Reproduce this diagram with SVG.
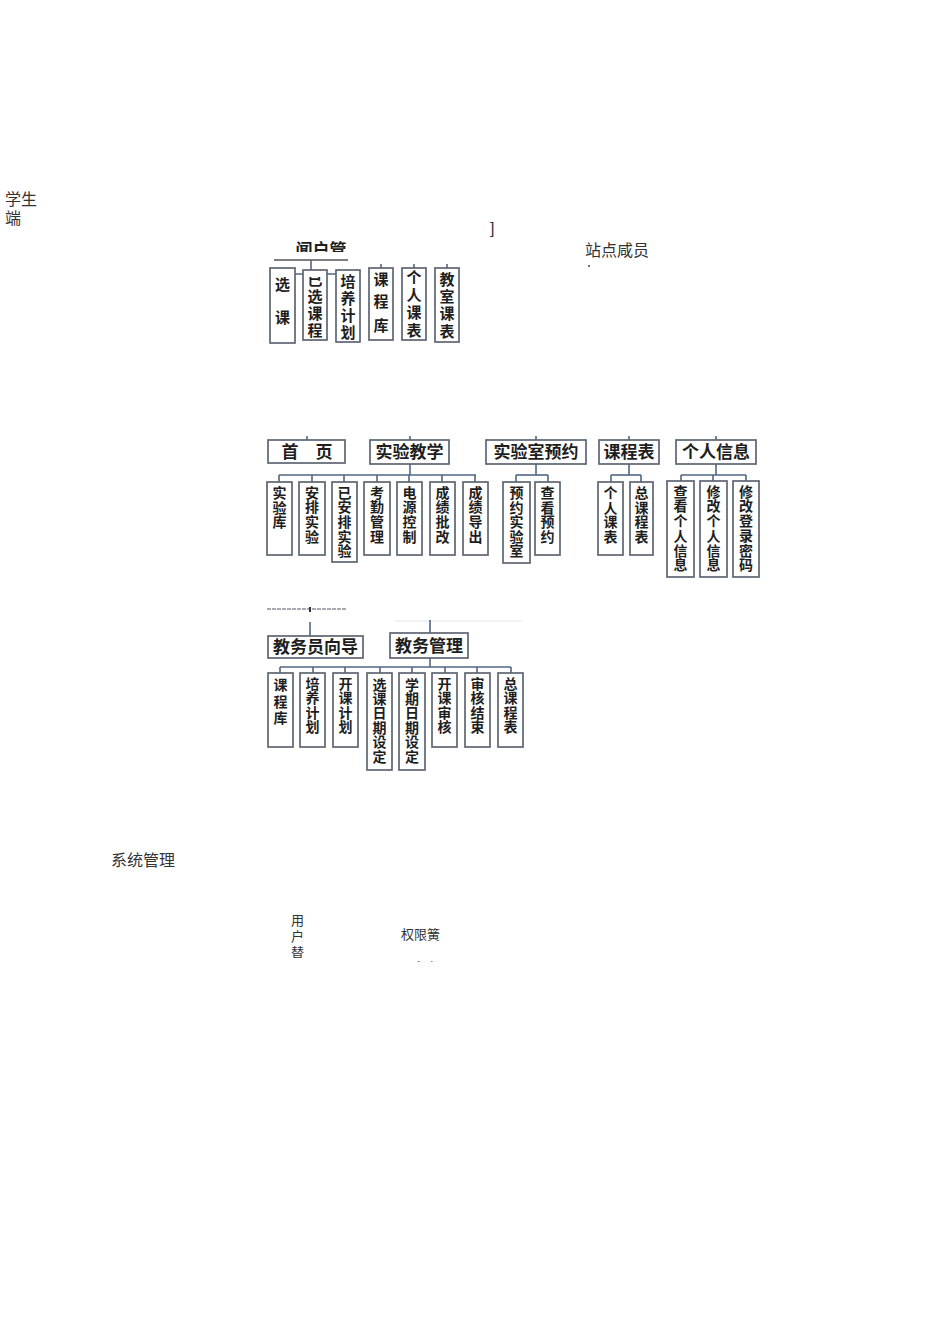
<svg xmlns="http://www.w3.org/2000/svg" width="950" height="1344" viewBox="0 0 950 1344">
<defs>
<style>
.bg{fill:#ffffff}
.box{fill:#ffffff;stroke:#5f6672;stroke-width:1.7}
.con{stroke:#4f6684;stroke-width:1.6;fill:none}
.lbl{font-family:"Liberation Sans","Noto Sans CJK SC",sans-serif;fill:#333333;font-size:16px}
.sm{font-family:"Liberation Sans","Noto Sans CJK SC",sans-serif;fill:#333333;font-size:13px}
.head{font-family:"Noto Sans CJK SC",sans-serif;fill:#1e1e1e;font-size:17px;text-anchor:middle;font-weight:700}
.v{font-family:"Noto Sans CJK SC",sans-serif;fill:#1e1e1e;font-size:14px;text-anchor:middle;font-weight:700}
.vt{font-family:"Noto Sans CJK SC",sans-serif;fill:#1e1e1e;font-size:15px;text-anchor:middle;font-weight:700}
</style>
<clipPath id="clipTop"><rect x="260" y="277" width="120" height="80"/></clipPath>
<clipPath id="clipHead"><rect x="280" y="230" width="100" height="22"/></clipPath>
<clipPath id="clipLow1"><rect x="280" y="900" width="40" height="58"/></clipPath>
<clipPath id="clipLow2"><rect x="390" y="950" width="80" height="12"/></clipPath>
</defs>
<rect class="bg" x="0" y="0" width="950" height="1344"/>

<g id="texts-free">
<text class="lbl" x="5" y="205">学生</text>
<text class="lbl" x="5" y="224">端</text>
<text class="lbl" x="490" y="234" fill="#666">]</text>
<text class="lbl" x="585" y="256">站点咸员</text>
<rect x="588" y="265" width="2" height="2" fill="#777"/>
<text class="lbl" x="111" y="866">系统管理</text>
<text class="sm" x="291" y="925">用</text>
<text class="sm" x="291" y="941">户</text>
<g clip-path="url(#clipLow1)"><text class="sm" x="291" y="957" fill="#888">替</text></g>
<text class="sm" x="401" y="939">权限簧</text>
<g clip-path="url(#clipLow2)"><text class="sm" x="401" y="972">理角色</text></g>
</g>

<g id="connectors">
<line x1="274" y1="260" x2="348" y2="260" stroke="#555" stroke-width="1.4"/>
<line class="con" x1="311" y1="260" x2="311" y2="274"/>
<line class="con" x1="277" y1="274" x2="346" y2="274"/>
<line class="con" x1="277" y1="274" x2="277" y2="281"/>
<line class="con" x1="311" y1="274" x2="311" y2="281"/>
<line class="con" x1="346" y1="274" x2="346" y2="281"/>
<line class="con" x1="381" y1="264" x2="381" y2="268"/>
<line class="con" x1="414" y1="264" x2="414" y2="268"/>
<line class="con" x1="447" y1="264" x2="447" y2="268"/>
<line class="con" x1="307" y1="436" x2="307" y2="440"/>
<line class="con" x1="410" y1="436" x2="410" y2="440"/>
<line class="con" x1="536" y1="436" x2="536" y2="440"/>
<line class="con" x1="629" y1="436" x2="629" y2="440"/>
<line class="con" x1="716" y1="436" x2="716" y2="440"/>
<line class="con" x1="410" y1="464" x2="410" y2="475"/>
<line class="con" x1="279" y1="475" x2="476" y2="475"/>
<line class="con" x1="279" y1="475" x2="279" y2="482"/>
<line class="con" x1="312" y1="475" x2="312" y2="482"/>
<line class="con" x1="344" y1="475" x2="344" y2="482"/>
<line class="con" x1="377" y1="475" x2="377" y2="482"/>
<line class="con" x1="409" y1="475" x2="409" y2="482"/>
<line class="con" x1="442" y1="475" x2="442" y2="482"/>
<line class="con" x1="475" y1="475" x2="475" y2="482"/>
<line class="con" x1="536" y1="464" x2="536" y2="475"/>
<line class="con" x1="516" y1="475" x2="548" y2="475"/>
<line class="con" x1="516" y1="475" x2="516" y2="482"/>
<line class="con" x1="548" y1="475" x2="548" y2="482"/>
<line class="con" x1="629" y1="464" x2="629" y2="475"/>
<line class="con" x1="611" y1="475" x2="641" y2="475"/>
<line class="con" x1="611" y1="475" x2="611" y2="482"/>
<line class="con" x1="641" y1="475" x2="641" y2="482"/>
<line class="con" x1="716" y1="464" x2="716" y2="475"/>
<line class="con" x1="681" y1="475" x2="746" y2="475"/>
<line class="con" x1="681" y1="475" x2="681" y2="481"/>
<line class="con" x1="713" y1="475" x2="713" y2="481"/>
<line class="con" x1="746" y1="475" x2="746" y2="481"/>
<line x1="267" y1="609" x2="347" y2="609" stroke="#8a8f98" stroke-width="1.4" stroke-dasharray="4 1"/>
<line x1="310" y1="607" x2="310" y2="612" stroke="#333" stroke-width="2"/>
<line class="con" x1="310" y1="622" x2="310" y2="636"/>
<line x1="395" y1="621" x2="522" y2="621" stroke="#e4e6ea" stroke-width="1.2"/>
<line class="con" x1="430" y1="620" x2="430" y2="633"/>
<line class="con" x1="430" y1="658" x2="430" y2="667"/>
<line class="con" x1="280" y1="667" x2="511" y2="667"/>
<line class="con" x1="280" y1="667" x2="280" y2="673"/>
<line class="con" x1="313" y1="667" x2="313" y2="673"/>
<line class="con" x1="345" y1="667" x2="345" y2="673"/>
<line class="con" x1="380" y1="667" x2="380" y2="673"/>
<line class="con" x1="412" y1="667" x2="412" y2="673"/>
<line class="con" x1="445" y1="667" x2="445" y2="673"/>
<line class="con" x1="477" y1="667" x2="477" y2="673"/>
<line class="con" x1="511" y1="667" x2="511" y2="673"/>
</g>

<g id="n-top-head" clip-path="url(#clipHead)">
<text class="head" x="321" y="256" font-size="16" font-weight="400">闻户管</text>
</g>

<g id="n-top-1">
<rect class="box" x="270" y="268" width="25" height="75"/>
<g clip-path="url(#clipTop)"><text class="vt" x="282.5" y="290">选</text></g>
<text class="vt" x="282.5" y="323">课</text>
</g>
<g id="n-top-2">
<rect class="box" x="303" y="270" width="24" height="70"/>
<g clip-path="url(#clipTop)"><text class="vt" x="315" y="285">已</text></g>
<text class="vt" x="315" y="302">选</text>
<text class="vt" x="315" y="319">课</text>
<text class="vt" x="315" y="336">程</text>
</g>
<g id="n-top-3">
<rect class="box" x="336" y="270" width="24" height="72"/>
<text class="vt" x="348" y="287">培</text>
<text class="vt" x="348" y="304">养</text>
<text class="vt" x="348" y="321">计</text>
<text class="vt" x="348" y="338">划</text>
</g>
<g id="n-top-4">
<rect class="box" x="369" y="268" width="24" height="72"/>
<text class="vt" x="381" y="285">课</text>
<text class="vt" x="381" y="307">程</text>
<text class="vt" x="381" y="331">库</text>
</g>
<g id="n-top-5">
<rect class="box" x="402" y="268" width="24" height="72"/>
<text class="vt" x="414" y="283">个</text>
<text class="vt" x="414" y="301">人</text>
<text class="vt" x="414" y="318">课</text>
<text class="vt" x="414" y="336">表</text>
</g>
<g id="n-top-6">
<rect class="box" x="435" y="268" width="24" height="74"/>
<text class="vt" x="447" y="285">教</text>
<text class="vt" x="447" y="302">室</text>
<text class="vt" x="447" y="319">课</text>
<text class="vt" x="447" y="337">表</text>
</g>

<g id="n-shouye">
<rect class="box" x="268" y="440" width="77" height="23"/>
<text class="head" x="307" y="458">首　页</text>
</g>
<g id="n-shiyanjiaoxue">
<rect class="box" x="370" y="440" width="79" height="24"/>
<text class="head" x="409.5" y="458">实验教学</text>
</g>
<g id="n-yuyue">
<rect class="box" x="486" y="440" width="100" height="24"/>
<text class="head" x="536" y="458">实验室预约</text>
</g>
<g id="n-kechengbiao">
<rect class="box" x="599" y="440" width="60" height="24"/>
<text class="head" x="629" y="458">课程表</text>
</g>
<g id="n-gerenxinxi">
<rect class="box" x="676" y="440" width="80" height="24"/>
<text class="head" x="716" y="458">个人信息</text>
</g>

<g id="n-sy-1">
<rect class="box" x="267" y="482" width="25" height="73"/>
<text class="v" x="279.5" y="498">实</text>
<text class="v" x="279.5" y="513">验</text>
<text class="v" x="279.5" y="527">库</text>
</g>
<g id="n-sy-2">
<rect class="box" x="299" y="482" width="26" height="73"/>
<text class="v" x="312" y="498">安</text>
<text class="v" x="312" y="512">排</text>
<text class="v" x="312" y="527">实</text>
<text class="v" x="312" y="542">验</text>
</g>
<g id="n-sy-3">
<rect class="box" x="332" y="482" width="25" height="80"/>
<text class="v" x="344.5" y="498">已</text>
<text class="v" x="344.5" y="512">安</text>
<text class="v" x="344.5" y="527">排</text>
<text class="v" x="344.5" y="542">实</text>
<text class="v" x="344.5" y="556">验</text>
</g>
<g id="n-sy-4">
<rect class="box" x="364" y="482" width="26" height="73"/>
<text class="v" x="377" y="498">考</text>
<text class="v" x="377" y="512">勤</text>
<text class="v" x="377" y="527">管</text>
<text class="v" x="377" y="542">理</text>
</g>
<g id="n-sy-5">
<rect class="box" x="397" y="482" width="25" height="73"/>
<text class="v" x="409.5" y="498">电</text>
<text class="v" x="409.5" y="512">源</text>
<text class="v" x="409.5" y="527">控</text>
<text class="v" x="409.5" y="542">制</text>
</g>
<g id="n-sy-6">
<rect class="box" x="430" y="482" width="25" height="73"/>
<text class="v" x="442.5" y="498">成</text>
<text class="v" x="442.5" y="512">绩</text>
<text class="v" x="442.5" y="527">批</text>
<text class="v" x="442.5" y="542">改</text>
</g>
<g id="n-sy-7">
<rect class="box" x="463" y="482" width="25" height="73"/>
<text class="v" x="475.5" y="498">成</text>
<text class="v" x="475.5" y="512">绩</text>
<text class="v" x="475.5" y="527">导</text>
<text class="v" x="475.5" y="542">出</text>
</g>

<g id="n-yy-1">
<rect class="box" x="503" y="482" width="27" height="81"/>
<text class="v" x="516.5" y="498">预</text>
<text class="v" x="516.5" y="513">约</text>
<text class="v" x="516.5" y="527">实</text>
<text class="v" x="516.5" y="542">验</text>
<text class="v" x="516.5" y="556">室</text>
</g>
<g id="n-yy-2">
<rect class="box" x="535" y="482" width="25" height="73"/>
<text class="v" x="547.5" y="498">查</text>
<text class="v" x="547.5" y="513">看</text>
<text class="v" x="547.5" y="527">预</text>
<text class="v" x="547.5" y="542">约</text>
</g>

<g id="n-kb-1">
<rect class="box" x="598" y="482" width="25" height="73"/>
<text class="v" x="610.5" y="498">个</text>
<text class="v" x="610.5" y="513">人</text>
<text class="v" x="610.5" y="527">课</text>
<text class="v" x="610.5" y="542">表</text>
</g>
<g id="n-kb-2">
<rect class="box" x="630" y="482" width="23" height="73"/>
<text class="v" x="641.5" y="498">总</text>
<text class="v" x="641.5" y="513">课</text>
<text class="v" x="641.5" y="527">程</text>
<text class="v" x="641.5" y="542">表</text>
</g>

<g id="n-xx-1">
<rect class="box" x="667" y="481" width="27" height="96"/>
<text class="v" x="680.5" y="497">查</text>
<text class="v" x="680.5" y="511">看</text>
<text class="v" x="680.5" y="526">个</text>
<text class="v" x="680.5" y="541">人</text>
<text class="v" x="680.5" y="556">信</text>
<text class="v" x="680.5" y="570">息</text>
</g>
<g id="n-xx-2">
<rect class="box" x="700" y="481" width="27" height="96"/>
<text class="v" x="713.5" y="497">修</text>
<text class="v" x="713.5" y="511">改</text>
<text class="v" x="713.5" y="526">个</text>
<text class="v" x="713.5" y="541">人</text>
<text class="v" x="713.5" y="556">信</text>
<text class="v" x="713.5" y="570">息</text>
</g>
<g id="n-xx-3">
<rect class="box" x="733" y="481" width="26" height="96"/>
<text class="v" x="746" y="497">修</text>
<text class="v" x="746" y="511">改</text>
<text class="v" x="746" y="526">登</text>
<text class="v" x="746" y="541">录</text>
<text class="v" x="746" y="556">密</text>
<text class="v" x="746" y="570">码</text>
</g>

<g id="n-jwyxd">
<rect class="box" x="268" y="636" width="95" height="22"/>
<text class="head" x="315.5" y="653">教务员向导</text>
</g>
<g id="n-jwgl">
<rect class="box" x="390" y="633" width="78" height="25"/>
<text class="head" x="429" y="652">教务管理</text>
</g>
<g id="n-jw-1">
<rect class="box" x="268" y="673" width="25" height="74"/>
<text class="v" x="280.5" y="690">课</text>
<text class="v" x="280.5" y="707">程</text>
<text class="v" x="280.5" y="723">库</text>
</g>
<g id="n-jw-2">
<rect class="box" x="300" y="673" width="25" height="74"/>
<text class="v" x="312.5" y="689">培</text>
<text class="v" x="312.5" y="703">养</text>
<text class="v" x="312.5" y="718">计</text>
<text class="v" x="312.5" y="732">划</text>
</g>
<g id="n-jw-3">
<rect class="box" x="333" y="673" width="25" height="74"/>
<text class="v" x="345.5" y="689">开</text>
<text class="v" x="345.5" y="703">课</text>
<text class="v" x="345.5" y="718">计</text>
<text class="v" x="345.5" y="732">划</text>
</g>
<g id="n-jw-4">
<rect class="box" x="367" y="673" width="25" height="97"/>
<text class="v" x="379.5" y="690">选</text>
<text class="v" x="379.5" y="704">课</text>
<text class="v" x="379.5" y="718">日</text>
<text class="v" x="379.5" y="733">期</text>
<text class="v" x="379.5" y="747">设</text>
<text class="v" x="379.5" y="762">定</text>
</g>
<g id="n-jw-5">
<rect class="box" x="399" y="673" width="26" height="97"/>
<text class="v" x="412" y="690">学</text>
<text class="v" x="412" y="704">期</text>
<text class="v" x="412" y="718">日</text>
<text class="v" x="412" y="733">期</text>
<text class="v" x="412" y="747">设</text>
<text class="v" x="412" y="762">定</text>
</g>
<g id="n-jw-6">
<rect class="box" x="432" y="673" width="25" height="74"/>
<text class="v" x="444.5" y="689">开</text>
<text class="v" x="444.5" y="703">课</text>
<text class="v" x="444.5" y="718">审</text>
<text class="v" x="444.5" y="732">核</text>
</g>
<g id="n-jw-7">
<rect class="box" x="465" y="673" width="25" height="74"/>
<text class="v" x="477.5" y="689">审</text>
<text class="v" x="477.5" y="703">核</text>
<text class="v" x="477.5" y="718">结</text>
<text class="v" x="477.5" y="732">束</text>
</g>
<g id="n-jw-8">
<rect class="box" x="498" y="673" width="25" height="74"/>
<text class="v" x="510.5" y="689">总</text>
<text class="v" x="510.5" y="703">课</text>
<text class="v" x="510.5" y="718">程</text>
<text class="v" x="510.5" y="732">表</text>
</g>
</svg>
